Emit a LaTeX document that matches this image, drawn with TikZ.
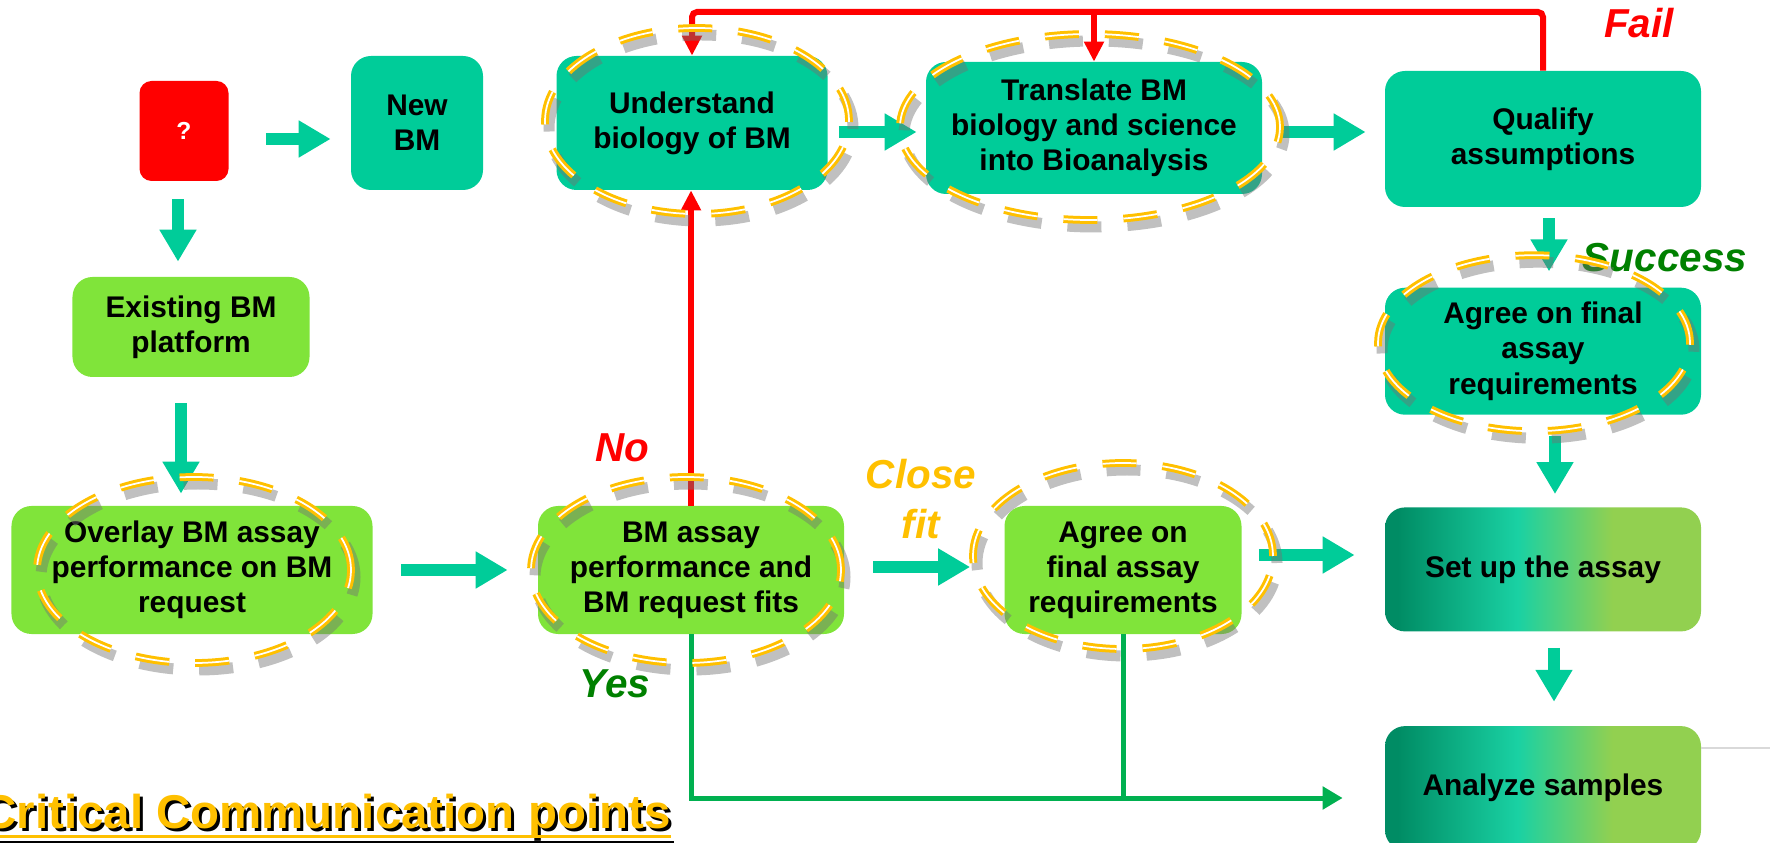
\documentclass[tikz,border=0pt]{standalone}
\usepackage{fontspec}
\setmainfont{Liberation Sans}
\usepackage{tikz}
\usetikzlibrary{arrows.meta,positioning}
\definecolor{bmteal}{RGB}{0,204,153}
\definecolor{bmlime}{RGB}{128,228,58}
\definecolor{bmgold}{RGB}{255,192,0}
\definecolor{bmdark}{RGB}{0,128,0}
\definecolor{bmline}{RGB}{0,176,80}
\definecolor{bmdeep}{RGB}{0,140,100}
\definecolor{bmpale}{RGB}{146,208,80}
\pgfdeclarehorizontalshading{bmgrad}{100bp}{color(0bp)=(bmdeep); color(27bp)=(bmdeep);
  color(46bp)=(bmteal!90!white); color(61bp)=(bmpale); color(100bp)=(bmpale)}

\begin{document}
\begin{tikzpicture}[x=0.2mm, y=-0.2mm,
  box/.style={rectangle, rounded corners=4mm, align=center, inner sep=1mm,
    font=\bfseries\fontsize{17}{20}\selectfont},
  tealbox/.style={box, fill=bmteal},
  limebox/.style={box, fill=bmlime},
  gradbox/.style={box, shading=bmgrad},
  blk/.style={draw=bmteal, line width=2.4mm, -{Triangle[width=7mm,length=6.4mm]}},
  redarr/.style={draw=red, line width=1.2mm, rounded corners=1mm, -{Triangle[width=3.8mm,length=4mm]}},
  grnln/.style={draw=bmline, line width=1mm},
  grnarr/.style={grnln, -{Triangle[width=4.4mm,length=4mm]}},
  ring/.style={draw=bmgold, line width=0.6mm, double=white, double distance=0.35mm, dash pattern=on 6.8mm off 5.2mm},
  ringshadow/.style={draw=black!55, opacity=0.45, line width=2.2mm, dash pattern=on 6.8mm off 5.2mm},
  tag/.style={font=\bfseries\itshape\fontsize{23}{28}\selectfont}
]
\useasboundingbox (0,0) rectangle (1770,843);
\clip (0,0) rectangle (1770,843);

\node[box, fill=red, text=white, minimum width=17.8mm, minimum height=20mm, rounded corners=2.4mm,
  font=\bfseries\fontsize{14}{16}\selectfont] (q) at (184,131) {?};
\node[tealbox, minimum width=26.4mm, minimum height=26.8mm] (newbm) at (417,123) {New\\BM};
\node[tealbox, minimum width=54.2mm, minimum height=26.8mm] (und) at (692,123) {Understand\\biology of BM};
\node[tealbox, minimum width=67.2mm, minimum height=26.4mm] (tr) at (1094,128) {Translate BM\\biology and science\\into Bioanalysis};
\node[tealbox, minimum width=63.2mm, minimum height=27.2mm] (qa) at (1543,139) {Qualify\\assumptions};
\node[tealbox, minimum width=63.2mm, minimum height=25.4mm, below=16mm of qa] (agr) {Agree on final\\assay\\requirements};
\node[gradbox, minimum width=63.2mm, minimum height=24.8mm, below=18.4mm of agr] (setup) {Set up the assay};
\node[gradbox, minimum width=63.2mm, minimum height=24.8mm, below=18.8mm of setup] (ana) {Analyze samples};
\node[limebox, minimum width=47.4mm, minimum height=20mm] (exist) at (191,327) {Existing BM\\platform};
\node[limebox, minimum width=72.2mm, minimum height=25.6mm] (ovl) at (192,570) {Overlay BM assay\\performance on BM\\request};
\node[limebox, minimum width=61.2mm, minimum height=25.6mm] (bma) at (691,570) {BM assay\\performance and\\BM request fits};
\node[limebox, minimum width=47.4mm, minimum height=25.6mm] (agm) at (1123,570) {Agree on\\final assay\\requirements};

\draw[black!15, line width=0.3mm] ([yshift=8mm]ana.east) -- ++(14mm,0);

\draw[blk, shorten <=7.4mm, shorten >=4mm] ([yshift=-1.6mm]q.east) -- ([yshift=-1.6mm]q.east -| newbm.west);
\draw[blk, shorten <=3.6mm, shorten >=3mm] ([xshift=-1.2mm]q.south) -- ([xshift=-1.2mm]q.south |- exist.north);
\draw[blk, shorten <=5.2mm, shorten >=2.4mm] ([xshift=-2mm]exist.south) -- ([xshift=-2mm]exist.south |- ovl.north);
\draw[blk, shorten <=5.6mm, shorten >=6mm] (ovl.east) -- (bma.west);
\draw[blk, shorten <=5.8mm, shorten >=6.8mm] ([yshift=0.6mm]bma.east) -- ([yshift=0.6mm]bma.east -| agm.west);
\draw[blk, shorten <=3.4mm, shorten >=6mm] ([yshift=3mm]agm.east) -- ([yshift=3mm]agm.east -| setup.west);
\draw[blk, shorten <=2.2mm, shorten >=1.8mm] ([yshift=-1.8mm]und.east) -- ([yshift=-1.8mm]und.east -| tr.west);
\draw[blk, shorten <=3.4mm, shorten >=3.8mm] ([yshift=-0.8mm]tr.east) -- ([yshift=-0.8mm]tr.east -| qa.west);
\draw[blk, shorten <=2.2mm, shorten >=3.2mm] ([xshift=1.2mm]qa.south) -- ([xshift=1.2mm]qa.south |- agr.north);
\draw[blk, shorten <=4.2mm, shorten >=2.6mm] ([xshift=2.4mm]agr.south) -- ([xshift=2.4mm]agr.south |- setup.north);
\draw[blk, shorten <=3.2mm, shorten >=4.8mm] ([xshift=2.2mm]setup.south) -- ([xshift=2.2mm]setup.south |- ana.north);

\coordinate (failtop) at (1544,12);
\coordinate (yesbase) at (690,798);
\draw[redarr] (bma.north) -- (bma.north |- und.south);
\draw[redarr] (qa.north) -- (qa.north |- failtop) -| (und.north);
\draw[redarr] (tr.north |- failtop) -- (tr.north);
\draw[grnarr, shorten >=8.4mm] (bma.south) |- (ana.west |- yesbase);
\draw[grnln] (agm.south) -- (agm.south |- yesbase);

\node[tag, text=red] (fail) at (1639,23) {Fail};
\node[tag, text=bmdark] (succ) at (1665,258) {Success};
\node[tag, text=red] (no) at (622,448) {No};
\node[tag, text=bmdark] (yes) at (615,684) {Yes};
\node[tag, text=bmgold, align=center] (close) at (921,499) {Close\\fit};

\foreach \n/\dx/\dy/\rx/\ry in {und/1/0.4/30.4/18.6, tr/-0.8/0.2/38/18.6, agr/-1.8/1.6/31.2/17.6,
    ovl/0.4/0/31.4/18.6, bma/-1/0/31/18.6, agm/0/2.8/30/18.6} {
  \draw[ringshadow] ([xshift={\dx mm+0.8mm}, yshift={\dy mm-1.4mm}]\n.center) ellipse [x radius=\rx mm, y radius=\ry mm];
  \draw[ring] ([xshift=\dx mm, yshift=\dy mm]\n.center) ellipse [x radius=\rx mm, y radius=\ry mm];
}

\node[anchor=base west, inner sep=0, text=black, font=\bfseries\fontsize{27}{30}\selectfont] (critsh) at (-15,831) {Critical Communication points};
\node[anchor=base west, inner sep=0, text=bmgold, font=\bfseries\fontsize{27}{30}\selectfont] (crit) at (-18,828) {Critical Communication points};
\draw[black, line width=0.6mm] ([yshift=-2.2mm]critsh.base west) -- ([yshift=-2.2mm]critsh.base east);
\draw[bmgold, line width=0.6mm] ([yshift=-1.6mm]crit.base west) -- ([yshift=-1.6mm]crit.base east);
\end{tikzpicture}
\end{document}
